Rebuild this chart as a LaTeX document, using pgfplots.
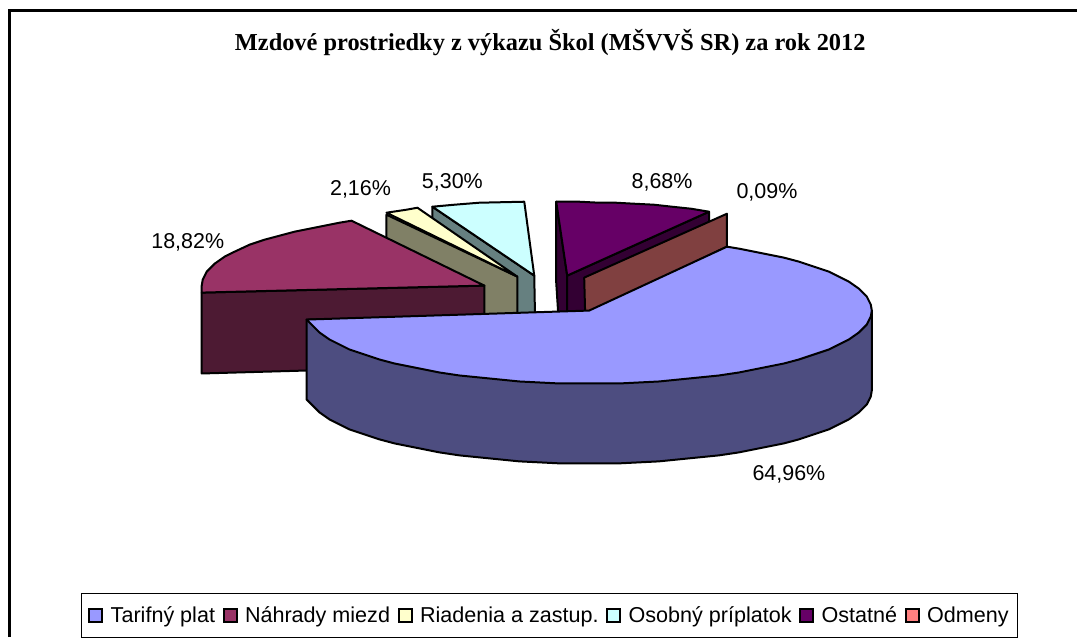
\documentclass[border=0pt]{standalone}
\usepackage{fontspec}
\setmainfont{Liberation Sans}
\newfontfamily\titlefont{Liberation Serif}
\usepackage{pgfplots}
\pgfplotsset{compat=1.18}

\definecolor{tarif}{HTML}{9999FF}
\definecolor{tarifside}{HTML}{4D4D80}
\definecolor{nahr}{HTML}{993366}
\definecolor{nahrside}{HTML}{4D1A33}
\definecolor{riad}{HTML}{FFFFCC}
\definecolor{riadside}{HTML}{808066}
\definecolor{osob}{HTML}{CCFFFF}
\definecolor{osobside}{HTML}{668080}
\definecolor{ost}{HTML}{660066}
\definecolor{ostside}{HTML}{330033}
\definecolor{odm}{HTML}{FF8080}
\definecolor{odmside}{HTML}{804040}

\begin{document}
\begin{tikzpicture}
\begin{axis}[
    scale only axis,
    width=1078pt, height=638pt,
    xmin=0, xmax=1078,
    ymin=0, ymax=638,
    y dir=reverse,
    hide axis,
    clip=false,
    legend columns=6,
    legend cell align=left,
    legend style={
        at={(axis cs:81,594)}, anchor=north west,
        draw=black, line width=1pt,
        font=\fontsize{21.6}{25}\selectfont,
        inner xsep=7pt, inner ysep=11pt,
        /tikz/every even column/.append style={column sep=5.6pt},
        /tikz/every odd column/.append style={column sep=5.4pt},
    },
    legend image code/.code={
        \draw[#1, line width=2pt] (0pt,-6.5pt) rectangle (13pt,6.5pt);
    },
    slice/.style={draw=black, line width=2pt, line join=round, forget plot},
]

% keeps the page the full size of the reference
\path (axis cs:0,0) rectangle (axis cs:1078,638);

% frame, only top and left are in the picture
\addplot[black, line width=3pt, forget plot] coordinates {(9.5,638) (9.5,10.5) (1078,10.5)};

% Osobny priplatok
\addplot[slice, fill=osobside] coordinates {(433,207) (535,276) (536,330) (433,260)} --cycle;
\addplot[slice, fill=osob] coordinates {(433,207) (455,205) (480,203) (525,202) (535,276)} --cycle;

% Riadenia a zastup.
\addplot[slice, fill=riadside] coordinates {(387,215) (518,277) (518,340) (387,280)} --cycle;
\addplot[slice, fill=riad] coordinates {(387,213) (407,210) (418,208) (518,277)} --cycle;

% Nahrady miezd
\addplot[slice, fill=nahrside] coordinates {(202,293) (485,286) (485,366) (202,374)} --cycle;
\addplot[slice, fill=nahr] coordinates {
    (352,221) (340,223) (325,226) (310,229) (295,232) (280,236) (265,240) (250,245)
    (235,252) (225,257) (215,264) (207,272) (203,280) (202,286) (202,293) (485,286)
} --cycle;

% Ostatne
\addplot[slice, fill=ostside] coordinates {(557,202) (568,276) (568,330) (560,330) (557,283)} --cycle;
\addplot[slice, fill=ostside] coordinates {(568,276) (710,212) (710,290) (568,350)} --cycle;
\addplot[slice, fill=ost] coordinates {
    (557,202) (580,202) (600,203) (617,203) (635,204) (655,205) (673,207) (692,209)
    (710,212) (568,276)
} --cycle;

% Odmeny, 0,09 % is only a thin wall
\addplot[slice, fill=odmside] coordinates {(585,278) (728,214) (728,247) (586,315)} --cycle;

% Tarifny plat
\addplot[slice, fill=tarifside] coordinates {
    (307,320) (873,311) (873,391) (872,397) (868,405) (860,413) (850,420) (840,425)
    (830,430) (815,435) (800,440) (785,444) (770,447) (755,450) (740,453) (720,456)
    (700,458) (680,460) (660,462) (640,463) (620,464) (600,464) (580,464) (560,464)
    (540,463) (520,462) (500,460) (480,458) (460,456) (440,453) (425,450) (410,447)
    (395,444) (380,440) (365,435) (350,430) (340,425) (330,420) (320,413) (312,405)
    (307,400)
} --cycle;
\addplot[slice, fill=tarif] coordinates {
    (590,311) (728,247) (740,249) (755,252) (770,255) (785,258) (800,262) (815,267)
    (830,272) (840,277) (850,282) (860,289) (868,297) (872,305) (873,311) (872,317)
    (868,325) (860,333) (850,340) (840,345) (830,350) (815,355) (800,360) (785,364)
    (770,367) (755,370) (740,373) (720,376) (700,378) (680,380) (660,382) (640,383)
    (620,384) (600,384) (580,384) (560,384) (540,383) (520,382) (500,380) (480,378)
    (460,376) (440,373) (425,370) (410,367) (395,364) (380,360) (365,355) (350,350)
    (340,345) (330,340) (320,333) (312,325) (307,320)
} --cycle;

% legend
\addlegendimage{fill=tarif, draw=black}
\addlegendentry{Tarifný plat}
\addlegendimage{fill=nahr, draw=black}
\addlegendentry{Náhrady miezd}
\addlegendimage{fill=riad, draw=black}
\addlegendentry{Riadenia a zastup.}
\addlegendimage{fill=osob, draw=black}
\addlegendentry{Osobný príplatok}
\addlegendimage{fill=ost, draw=black}
\addlegendentry{Ostatné}
\addlegendimage{fill=odm, draw=black}
\addlegendentry{Odmeny}

% labels
\node[font=\titlefont\bfseries\fontsize{24.4}{28}\selectfont] at (axis cs:551,43) {Mzdové prostriedky z výkazu Škol (MŠVVŠ SR) za rok 2012};
\node[font=\fontsize{21.5}{25}\selectfont] at (axis cs:188,243) {18,82\%};
\node[font=\fontsize{21.5}{25}\selectfont] at (axis cs:361,190) {2,16\%};
\node[font=\fontsize{21.5}{25}\selectfont] at (axis cs:453,183) {5,30\%};
\node[font=\fontsize{21.5}{25}\selectfont] at (axis cs:663,183) {8,68\%};
\node[font=\fontsize{21.5}{25}\selectfont] at (axis cs:768,193) {0,09\%};
\node[font=\fontsize{21.5}{25}\selectfont] at (axis cs:790,475) {64,96\%};
\end{axis}
\end{tikzpicture}
\end{document}
